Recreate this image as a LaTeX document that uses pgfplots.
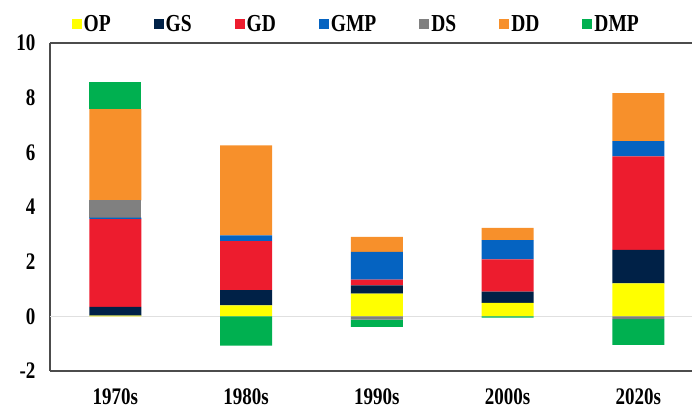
\documentclass[border=0pt]{standalone}
\usepackage{fontspec}
\setmainfont{Liberation Serif}
\usepackage{graphicx}
\usepackage{pgfplots}
\pgfplotsset{compat=1.18}
\usepackage{pgfplotstable}

\definecolor{cOP}{RGB}{255,255,0}
\definecolor{cGS}{RGB}{0,33,71}
\definecolor{cGD}{RGB}{237,28,46}
\definecolor{cGMP}{RGB}{5,99,193}
\definecolor{cDS}{RGB}{128,128,128}
\definecolor{cDD}{RGB}{247,144,43}
\definecolor{cDMP}{RGB}{0,176,80}

\newcommand{\st}[1]{\scalebox{1}[1.25]{#1}}

% positive parts
\pgfplotstableread{
x OP GS GD GMP DS DD DMP
0 0.03 0.32 3.21 0.05 0.63 3.34 0.98
1 0.40 0.56 1.79 0.21 0.00 3.29 0.00
2 0.83 0.30 0.21 1.02 0.00 0.55 0.00
3 0.49 0.41 1.18 0.71 0.00 0.45 0.00
4 1.21 1.22 3.42 0.56 0.00 1.76 0.00
}\tpos
% negative parts
\pgfplotstableread{
x DS DMP
0 0.00 0.00
1 0.00 -1.07
2 -0.12 -0.27
3 0.00 -0.05
4 -0.10 -0.94
}\tneg

\pgfplotsset{
  base/.style={
    scale only axis, width=642pt, height=328pt,
    xmin=-0.5, xmax=4.41, ymin=-2, ymax=10,
    ybar stacked, bar width=52pt,
  },
}

\begin{document}
\begin{tikzpicture}
\begin{axis}[base, name=ax,
  axis x line*=box, axis y line*=left,
  axis line style={draw=black!70, line width=1.2pt},
  xtick={0,1,2,3,4},
  xticklabels={\st{1970s},\st{1980s},\st{1990s},\st{2000s},\st{2020s}},
  ytick={-2,0,2,4,6,8,10},
  yticklabel={\st{\pgfmathprintnumber{\tick}}},
  major tick length=0pt,
  /pgf/number format/assume math mode=true,
  ticklabel style={font=\fontsize{19}{21}\selectfont\bfseries},
  yticklabel style={xshift=-11pt},
  xticklabel style={yshift=-14pt},
  extra y ticks={0}, extra y tick labels={},
  extra y tick style={grid=major, major grid style={draw=black!12, line width=1.2pt}},
  legend columns=7,
  legend style={at={(0.477,1.058)}, anchor=center, draw=none, fill=none,
    font=\fontsize{19.5}{21}\selectfont\bfseries,
    /tikz/every odd column/.append style={column sep=0pt},
    /tikz/every even column/.append style={column sep=41pt},
    nodes={inner sep=2pt}},
  legend image code/.code={\fill[#1] (0pt,-5pt) rectangle (10pt,5pt);},
]
\addplot[fill=cOP, draw=none] table[x=x, y=OP] {\tpos};
\addlegendentry{\st{OP}}
\addplot[fill=cGS, draw=none] table[x=x, y=GS] {\tpos};
\addlegendentry{\st{GS}}
\addplot[fill=cGD, draw=none] table[x=x, y=GD] {\tpos};
\addlegendentry{\st{GD}}
\addplot[fill=cGMP, draw=none] table[x=x, y=GMP] {\tpos};
\addlegendentry{\st{GMP}}
\addplot[fill=cDS, draw=none] table[x=x, y=DS] {\tpos};
\addlegendentry{\st{DS}}
\addplot[fill=cDD, draw=none] table[x=x, y=DD] {\tpos};
\addlegendentry{\st{DD}}
\addplot[fill=cDMP, draw=none] table[x=x, y=DMP] {\tpos};
\addlegendentry{\st{DMP}}
\end{axis}
\begin{axis}[base, hide axis]
\addplot[fill=cDS, draw=none] table[x=x, y=DS] {\tneg};
\addplot[fill=cDMP, draw=none] table[x=x, y=DMP] {\tneg};
\end{axis}
\pgfresetboundingbox
\path ([xshift=-50pt, yshift=-41pt]ax.south west) rectangle ([yshift=43pt]ax.north east);
\end{tikzpicture}
\end{document}
